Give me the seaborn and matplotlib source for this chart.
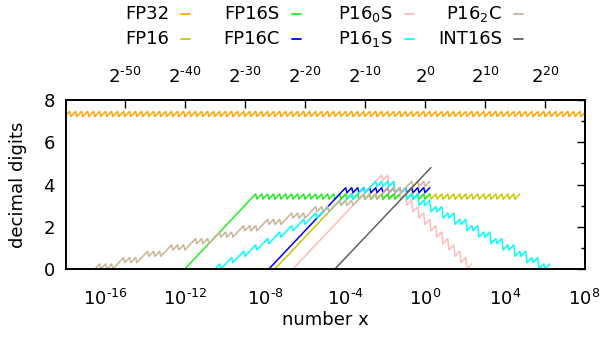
import numpy as np
import pandas as pd
import matplotlib
matplotlib.use("Agg")
import matplotlib.pyplot as plt
import seaborn as sns
from matplotlib.lines import Line2D

# ---------------- data (x given as log2 x) ----------------
series_names = ["FP32", "FP16", "FP16S", "FP16C",
                "P16$_0$S", "P16$_1$S", "P16$_2$C", "INT16S"]
series_colors = ["#ffa500", "#c8c800", "#22ee22", "#0000ff",
                 "#ffbcbc", "#00ffff", "#c8b496", "#606060"]

# straight ramps: [log2 start, digits start, log2 end, digits end]
fp16_ramp = [-25, 0.00, -14, 3.31]
fp16s_ramp = [-40, 0.00, -29, 3.31]
fp16c_ramp = [-26, 0.00, -14, 3.61]
p160s_ramp = [-22, 0.00, -8, 4.21]
int16s_ramp = [-15, 0.00, 1, 4.80]

# saw-tooth runs: binade edges (log2 x) and the low digit value of each run
fp32_edges = [-60, 27]
fp32_lows = [7.22]
fp16_edges = [-14, 16]
fp16_lows = [3.31]
fp16s_edges = [-29, 1]
fp16s_lows = [3.31]
fp16c_edges = [-14, 1]
fp16c_lows = [3.61]
p160s_edges = [-8, -6, -5, -4, -3, -2, -1, 0, 1, 2, 3, 4, 5, 6, 7, 8]
p160s_lows = [4.21, 3.91, 3.61, 3.31, 3.01, 2.71, 2.41, 2.11, 1.81, 1.51,
              1.20, 0.90, 0.60, 0.30, 0.00]
p161s_edges = [-35, -33, -31, -29, -27, -25, -23, -21, -19, -17, -15, -13, -11,
               -9, -5, -3, -1, 1, 3, 5, 7, 9, 11, 13, 15, 17, 19, 21]
p161s_lows = [0.00, 0.30, 0.60, 0.90, 1.20, 1.51, 1.81, 2.11, 2.41, 2.71, 3.01,
              3.31, 3.61, 3.91, 3.61, 3.31, 3.01, 2.71, 2.41, 2.11, 1.81, 1.51,
              1.20, 0.90, 0.60, 0.30, 0.00]
p162c_edges = [-55, -51, -47, -43, -39, -35, -31, -27, -23, -19, -15, -11, -7, -3, 1]
p162c_lows = [0.00, 0.30, 0.60, 0.90, 1.20, 1.51, 1.81, 2.11, 2.41, 2.71, 3.01,
              3.31, 3.61, 3.91]
tooth_height = 0.30   # rise of one tooth within a binade

x_major = [-16, -12, -8, -4, 0, 4, 8]          # powers of ten on bottom axis
x2_major = [-50, -40, -30, -20, -10, 0, 10, 20]  # powers of two on top axis
y_major = [0, 2, 4, 6, 8]
y_minor = [1, 3, 5, 7]

# ---------------- build polylines ----------------
DROP = 0.2


def ramp_pts(r):
    return [r[0], r[2]], [r[1], r[3]]


def saw_pts(edges, lows, h):
    xs, ys = [], []
    for i, lo in enumerate(lows):
        for b in range(edges[i], edges[i + 1]):
            xs += [b, b + 1 - DROP]
            ys += [lo, lo + h * (1 - DROP)]
    return xs, ys


def combine(*parts):
    xs, ys = [], []
    for px, py in parts:
        xs += list(px)
        ys += list(py)
    return xs, ys


curves = [
    combine(saw_pts(fp32_edges, fp32_lows, tooth_height)),
    combine(ramp_pts(fp16_ramp), saw_pts(fp16_edges, fp16_lows, tooth_height)),
    combine(ramp_pts(fp16s_ramp), saw_pts(fp16s_edges, fp16s_lows, tooth_height)),
    combine(ramp_pts(fp16c_ramp), saw_pts(fp16c_edges, fp16c_lows, tooth_height)),
    combine(ramp_pts(p160s_ramp), saw_pts(p160s_edges, p160s_lows, tooth_height)),
    combine(saw_pts(p161s_edges, p161s_lows, tooth_height)),
    combine(saw_pts(p162c_edges, p162c_lows, tooth_height)),
    combine(ramp_pts(int16s_ramp)),
]

rows = []
for name, (xs, ys) in zip(series_names, curves):
    for k, (lx, y) in enumerate(zip(xs, ys)):
        rows.append({"series": name, "x": 2.0 ** lx, "digits": y, "k": k})
df = pd.DataFrame(rows)

# ---------------- plot ----------------
sns.set_style("white")
plt.rcParams["font.family"] = ["DejaVu Sans"]
plt.rcParams["mathtext.fontset"] = "dejavusans"
plt.rcParams["text.color"] = "black"
plt.rcParams["axes.labelcolor"] = "black"
plt.rcParams["xtick.color"] = "black"
plt.rcParams["ytick.color"] = "black"

FS = 13
W, H = 613, 337
fig = plt.figure(figsize=(W / 100, H / 100), dpi=100)
ax = fig.add_axes([66 / W, 1 - 269 / H, (584.5 - 66) / W, (269 - 100) / H])

sns.lineplot(data=df, x="x", y="digits", hue="series", hue_order=series_names,
             palette=dict(zip(series_names, series_colors)), sort=False,
             estimator=None, legend=False, linewidth=1.1, ax=ax)
ax.set_xscale("log")
ax.set_xlim(1e-18, 1e8)
ax.set_ylim(0, 8)

for s in ax.spines.values():
    s.set_linewidth(1.4)
    s.set_color("black")

HY = "\u2010"
ax.set_xticks([10.0 ** p for p in x_major])
ax.set_xticklabels([f"$10^{{{str(p).replace('-', HY)}}}$" for p in x_major])
minor = [k * 10.0 ** (p - 1) for p in x_major for k in range(2, 10)]
ax.set_xticks(minor, minor=True)
ax.xaxis.set_minor_formatter(matplotlib.ticker.NullFormatter())
ax.set_yticks(y_major)
ax.set_yticks(y_minor, minor=True)
ax.tick_params(which="both", direction="in", top=False, right=True,
               labelsize=FS, width=1.0, color="black", labelcolor="black")
ax.tick_params(which="major", length=6)
ax.tick_params(which="minor", length=3)
ax.tick_params(axis="x", pad=14.5)
ax.tick_params(axis="y", pad=8)

top = ax.secondary_xaxis("top")
top.set_xticks([2.0 ** p for p in x2_major])
top.set_xticklabels([f"$2^{{{str(p).replace('-', HY)}}}$" for p in x2_major])
top.tick_params(direction="in", length=6, width=1.0, labelsize=FS, pad=9,
                color="black", labelcolor="black")
top.xaxis.set_minor_locator(matplotlib.ticker.NullLocator())
top.spines["top"].set_linewidth(1.4)

ax.set_xlabel("number x", fontsize=FS, labelpad=1, color="black")
ax.set_ylabel("decimal digits", fontsize=FS, labelpad=12, color="black")

# gnuplot-style key: right aligned text followed by a short sample
col_dash = [181, 292, 405, 514]
row_y = [14, 39]
for i, (name, color) in enumerate(zip(series_names, series_colors)):
    c, r = divmod(i, 2)
    xd = col_dash[c]
    yy = 1 - row_y[r] / H
    fig.text((xd - 12) / W, yy, name, ha="right", va="center", fontsize=FS,
             color="black")
    fig.add_artist(Line2D([xd / W, (xd + 9) / W], [yy, yy], color=color,
                          lw=1.3, transform=fig.transFigure))

fig.savefig("out.png", dpi=100)
